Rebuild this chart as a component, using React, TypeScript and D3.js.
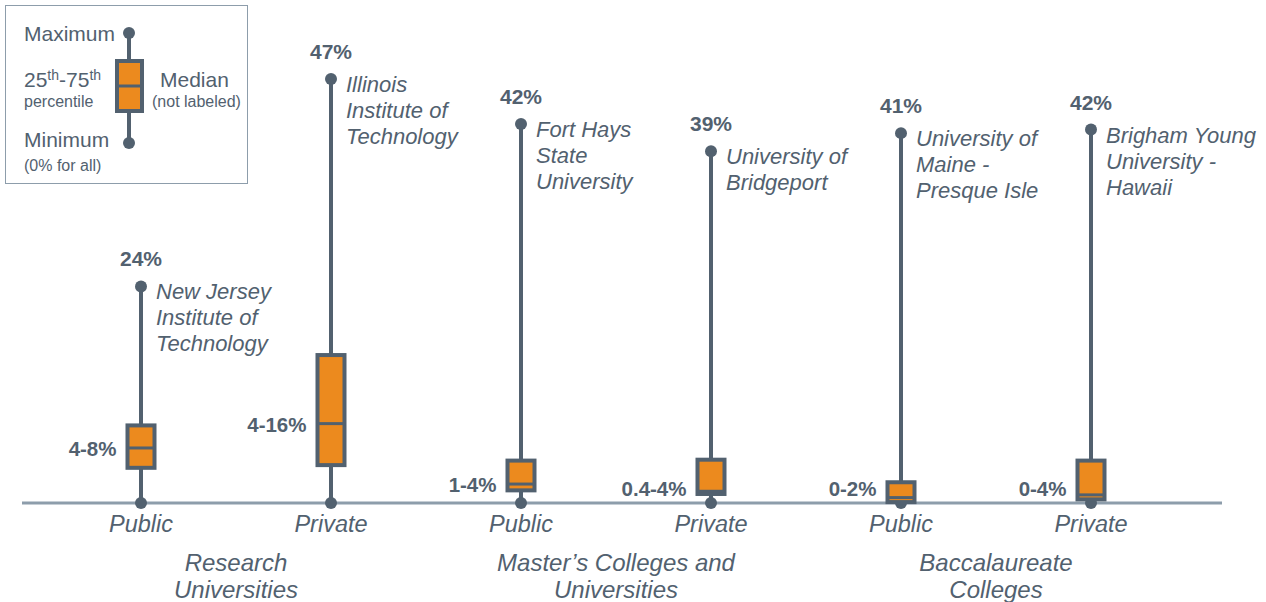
import React from "react";
import * as d3 from "d3";

const groups = ["Research Universities", "Master’s Colleges and Universities", "Baccalaureate Colleges"];
const groupLines = [["Research", "Universities"], ["Master’s Colleges and", "Universities"], ["Baccalaureate", "Colleges"]];
const sectors = ["Public", "Private", "Public", "Private", "Public", "Private"];
const groupIndex = [0, 0, 1, 1, 2, 2];
const minVals = [0, 0, 0, 0, 0, 0];
const q1Vals = [3.9, 4.2, 1.4, 1.0, 0.1, 0.4];
const medianVals = [6.1, 8.8, 2.1, 1.3, 0.6, 0.9];
const q3Vals = [8.6, 16.4, 4.7, 4.8, 2.3, 4.7];
const maxVals = [24, 47, 42, 39, 41, 41.4];
const maxLabels = ["24%", "47%", "42%", "39%", "41%", "42%"];
const rangeLabels = ["4-8%", "4-16%", "1-4%", "0.4-4%", "0-2%", "0-4%"];
const institutions = [
  ["New Jersey", "Institute of", "Technology"],
  ["Illinois", "Institute of", "Technology"],
  ["Fort Hays", "State", "University"],
  ["University of", "Bridgeport"],
  ["University of", "Maine -", "Presque Isle"],
  ["Brigham Young", "University -", "Hawaii"],
];

const DARK = "#52616f";
const ORANGE = "#ec8a1e";
const AXIS = "#8d9dab";
const FONT = "'Liberation Sans', Arial, sans-serif";

export default function App() {
  const W = 1266, H = 602;
  const x = d3.scalePoint<number>().domain(d3.range(6)).range([141, 1091]);
  const y = d3.scaleLinear().domain([0, 47]).range([503, 79]);
  const boxW = 27;

  const ly = d3.scaleLinear().domain([0, 1]).range([143, 33]);

  return (
    <svg width={W} height={H} style={{ position: "absolute", left: 0, top: 0, fontFamily: FONT }}>
      <line x1={22} x2={1222} y1={y(0)} y2={y(0)} stroke={AXIS} strokeWidth={3} />
      {d3.range(6).map((i) => {
        const cx = x(i)!;
        const medY = y(medianVals[i]);
        const labelY = Math.min(medY + 8, 496);
        const topY = y(maxVals[i]);
        const nameY = Math.min(topY + 13, Math.max(topY + 13, 0));
        return (
          <g key={i}>
            <line x1={cx} x2={cx} y1={topY} y2={y(minVals[i])} stroke={DARK} strokeWidth={4} />
            <circle cx={cx} cy={topY} r={6} fill={DARK} />
            <circle cx={cx} cy={y(minVals[i])} r={6} fill={DARK} />
            <rect x={cx - boxW / 2} y={y(q3Vals[i])} width={boxW} height={y(q1Vals[i]) - y(q3Vals[i])}
              fill={ORANGE} stroke={DARK} strokeWidth={4} />
            <line x1={cx - boxW / 2} x2={cx + boxW / 2} y1={medY} y2={medY} stroke={DARK} strokeWidth={3} />
            <text x={cx - boxW / 2 - 11} y={labelY} textAnchor="end" fontSize={20.5} fontWeight="bold" fill={DARK}>{rangeLabels[i]}</text>
            <text x={cx} y={topY - 20} textAnchor="middle" fontSize={21} fontWeight="bold" fill={DARK}>{maxLabels[i]}</text>
            {institutions[i].map((t, k) => (
              <text key={k} x={cx + 15} y={nameY + k * 26} fontSize={22} fontStyle="italic" fill={DARK}>{t}</text>
            ))}
            <text x={cx} y={532} textAnchor="middle" fontSize={23.5} fontStyle="italic" fill={DARK}>{sectors[i]}</text>
          </g>
        );
      })}
      {groups.map((g, gi) => {
        const idx = d3.range(6).filter((i) => groupIndex[i] === gi);
        const cx = d3.mean(idx, (i) => x(i)!)!;
        return (
          <g key={g}>
            {groupLines[gi].map((t, k) => (
              <text key={k} x={cx} y={571 + k * 27} textAnchor="middle" fontSize={24} fontStyle="italic" fill={DARK}>{t}</text>
            ))}
          </g>
        );
      })}
      <g>
        <rect x={5.5} y={5.5} width={242} height={178} fill="white" stroke={AXIS} strokeWidth={1} />
        <line x1={129} x2={129} y1={ly(1)} y2={ly(0)} stroke={DARK} strokeWidth={4} />
        <circle cx={129} cy={ly(1)} r={6} fill={DARK} />
        <circle cx={129} cy={ly(0)} r={6} fill={DARK} />
        <rect x={117} y={61} width={25} height={50} fill={ORANGE} stroke={DARK} strokeWidth={4} />
        <line x1={117} x2={142} y1={86} y2={86} stroke={DARK} strokeWidth={3} />
        <text x={24} y={41} fontSize={21} fill={DARK}>Maximum</text>
        <text x={24} y={87} fontSize={21} fill={DARK}>
          25<tspan fontSize={14} dy={-7}>th</tspan><tspan dy={7}>-75</tspan><tspan fontSize={14} dy={-7}>th</tspan>
        </text>
        <text x={24} y={107} fontSize={16} fill={DARK}>percentile</text>
        <text x={160} y={87} fontSize={21} fill={DARK}>Median</text>
        <text x={152} y={107} fontSize={16} fill={DARK}>(not labeled)</text>
        <text x={24} y={147} fontSize={21} fill={DARK}>Minimum</text>
        <text x={24} y={171} fontSize={16} fill={DARK}>(0% for all)</text>
      </g>
    </svg>
  );
}
